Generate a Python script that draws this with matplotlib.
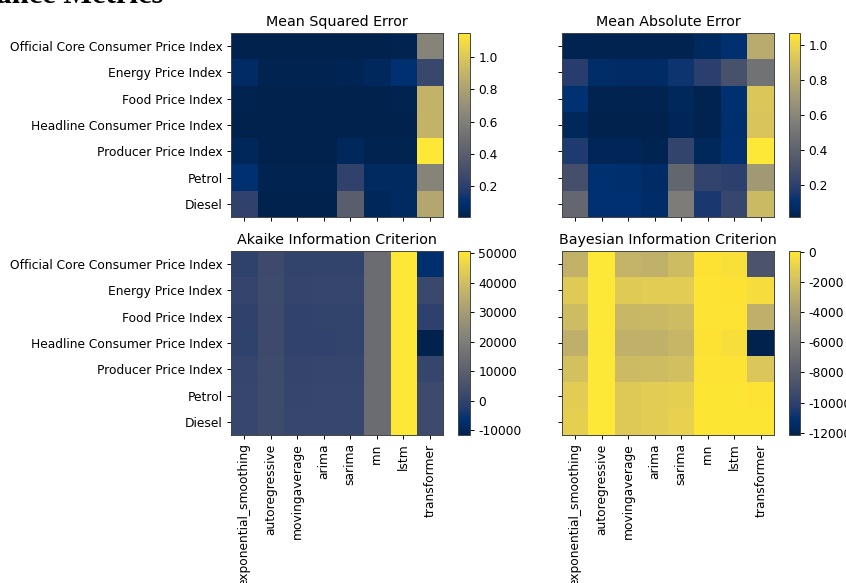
import numpy as np
import matplotlib
matplotlib.use("Agg")
import matplotlib.pyplot as plt

plt.rcParams["axes.unicode_minus"] = False

# Series (rows) and models (columns)
series = ["Official Core Consumer Price Index", "Energy Price Index", "Food Price Index",
          "Headline Consumer Price Index", "Producer Price Index", "Petrol", "Diesel"]
models = ["exponential_smoothing", "autoregressive", "movingaverage", "arima",
          "sarima", "rnn", "lstm", "transformer"]

mse = [
    [0.010, 0.008, 0.008, 0.008, 0.010, 0.012, 0.015, 0.63],
    [0.070, 0.020, 0.020, 0.020, 0.030, 0.050, 0.100, 0.25],
    [0.020, 0.010, 0.010, 0.010, 0.012, 0.010, 0.015, 0.90],
    [0.012, 0.008, 0.008, 0.008, 0.010, 0.008, 0.012, 0.90],
    [0.040, 0.012, 0.012, 0.012, 0.050, 0.020, 0.020, 1.15],
    [0.100, 0.020, 0.020, 0.015, 0.220, 0.060, 0.060, 0.63],
    [0.220, 0.010, 0.010, 0.010, 0.400, 0.040, 0.060, 0.83],
]

mae = [
    [0.030, 0.020, 0.020, 0.020, 0.020, 0.060, 0.100, 0.80],
    [0.180, 0.080, 0.070, 0.070, 0.130, 0.190, 0.300, 0.49],
    [0.110, 0.020, 0.020, 0.020, 0.050, 0.020, 0.100, 0.93],
    [0.050, 0.015, 0.015, 0.015, 0.040, 0.020, 0.090, 0.92],
    [0.160, 0.040, 0.040, 0.030, 0.220, 0.050, 0.100, 1.07],
    [0.290, 0.100, 0.090, 0.070, 0.420, 0.220, 0.200, 0.70],
    [0.430, 0.100, 0.100, 0.080, 0.550, 0.150, 0.230, 0.87],
]

aic = [
    [-400, 2600, 300, 300, 400, 14500, 50700, -7300],
    [700, 2700, 600, 800, 900, 14500, 50700, 2000],
    [-200, 2600, 200, 300, 300, 14500, 50600, -500],
    [-300, 2500, 100, 200, 300, 14500, 50600, -11700],
    [800, 2700, 700, 800, 900, 14500, 50700, 800],
    [1000, 2800, 900, 1000, 1000, 14500, 50700, 2650],
    [1100, 2800, 1000, 1000, 1100, 14500, 50700, 2650],
]

bic = [
    [-2700, 40, -2600, -2800, -2100, -150, -300, -8700],
    [-1400, 50, -1400, -1250, -1250, -100, -150, -370],
    [-2100, 45, -2400, -2300, -2100, -120, -120, -2840],
    [-2840, 40, -2800, -2800, -2450, -150, -350, -12150],
    [-1900, 50, -2200, -2100, -1950, -100, -120, -1600],
    [-1250, 55, -1450, -1250, -1100, -60, -60, -100],
    [-1100, 60, -1450, -1250, -1000, -60, -60, -80],
]

panels = [
    ("Mean Squared Error", mse),
    ("Mean Absolute Error", mae),
    ("Akaike Information Criterion", aic),
    ("Bayesian Information Criterion", bic),
]

W, H = 846, 583
fig = plt.figure(figsize=(W / 100, H / 100), dpi=100)

TICK = 8.8
TITLE = 10.3


def box(x0, y0, x1, y1):
    """Pixel box (top-left origin) to figure fraction rect."""
    return [x0 / W, (H - y1) / H, (x1 - x0) / W, (y1 - y0) / H]


heat_boxes = [
    (231, 33, 443, 217), (562, 33, 774, 217),
    (231, 251, 443, 435), (562, 251, 774, 435),
]
cbar_boxes = [
    (458, 33, 470, 217), (789, 33, 800, 217),
    (458, 251, 470, 435), (789, 251, 800, 435),
]

for i, ((title, vals), hb, cb) in enumerate(zip(panels, heat_boxes, cbar_boxes)):
    ax = fig.add_axes(box(*hb))
    data = np.array(vals, dtype=float)
    im = ax.imshow(data, cmap="cividis", aspect="auto", interpolation="nearest")
    ax.set_title(title, fontsize=TITLE, pad=5)
    ax.set_xticks(range(len(models)))
    ax.set_yticks(range(len(series)))
    if i >= 2:
        ax.set_xticklabels(models, rotation=90, fontsize=TICK)
    else:
        ax.set_xticklabels([])
    if i % 2 == 0:
        ax.set_yticklabels(series, fontsize=TICK)
    else:
        ax.set_yticklabels([])
    ax.tick_params(length=3.1, width=0.7, pad=3)
    for s in ax.spines.values():
        s.set_linewidth(0.7)
        s.set_color("#444444")

    cax = fig.add_axes(box(*cb))
    cbar = fig.colorbar(im, cax=cax)
    cbar.ax.tick_params(labelsize=TICK, length=3.1, width=0.7, pad=3)
    cbar.outline.set_linewidth(0.7)
    cbar.outline.set_edgecolor("#444444")

fig.text(163 / W, (H - 3) / H, "Performance Metrics", ha="right", va="baseline",
         fontsize=22, fontweight="bold", family="Liberation Serif")

fig.savefig("out.png", dpi=100)
